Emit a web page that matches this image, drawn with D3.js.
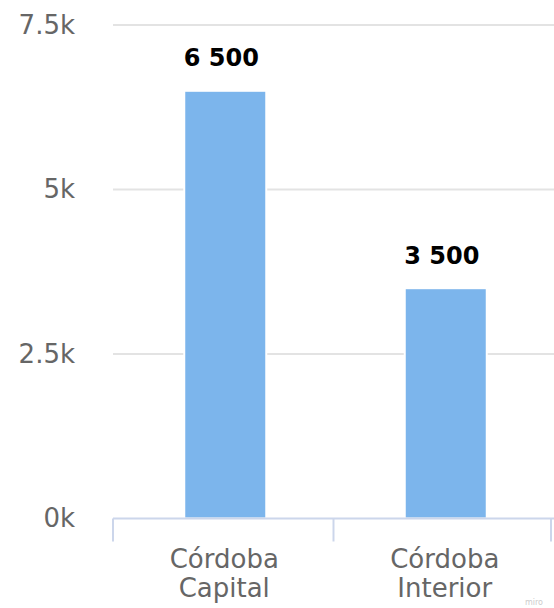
<!DOCTYPE html>
<html>
<head>
<meta charset="utf-8">
<script src="https://cdn.jsdelivr.net/npm/d3@7"></script>
<style>
  html, body { margin: 0; padding: 0; background: #fff; }
  svg { display: block; }
  text { font-family: "DejaVu Sans", sans-serif; }
</style>
</head>
<body>
<svg id="chart" width="554" height="608"></svg>
<script>
const categories = [["Córdoba", "Capital"], ["Córdoba", "Interior"]];
const values = [6500, 3500];
const valueLabels = ["6 500", "3 500"];
const yTicks = [0, 2500, 5000, 7500];
const yTickLabels = ["0k", "2.5k", "5k", "7.5k"];

const svg = d3.select("#chart");
const plotLeft = 113, plotRight = 554, plotTop = 25, plotBottom = 518.5;

const x = d3.scaleBand().domain(d3.range(categories.length)).range([plotLeft, plotRight]).paddingInner(0).paddingOuter(0);
const y = d3.scaleLinear().domain([0, 7500]).range([plotBottom, plotTop]);

// gridlines
svg.append("g").selectAll("line").data(yTicks.filter(d => d > 0)).join("line")
  .attr("x1", plotLeft).attr("x2", plotRight)
  .attr("y1", d => y(d)).attr("y2", d => y(d))
  .attr("stroke", "#e3e3e3").attr("stroke-width", 2);

// y labels
svg.append("g").selectAll("text").data(yTicks).join("text")
  .attr("x", 75).attr("y", d => y(d) + 8.5)
  .attr("text-anchor", "end")
  .attr("font-size", 26).attr("fill", "#666")
  .text((d, i) => yTickLabels[i]);

// bars
const barW = 82;
svg.append("g").selectAll("rect").data(values).join("rect")
  .attr("x", (d, i) => x(i) + x.bandwidth() / 2 - barW / 2 + 2)
  .attr("width", barW)
  .attr("y", d => y(d))
  .attr("height", d => y(0) - y(d))
  .attr("fill", "#7cb5ec")
  .attr("stroke", "#ffffff").attr("stroke-width", 2);

// x axis line
svg.append("line")
  .attr("x1", plotLeft).attr("x2", plotRight + 2)
  .attr("y1", plotBottom).attr("y2", plotBottom)
  .attr("stroke", "#ccd6eb").attr("stroke-width", 2);

// x ticks
const tickXs = d3.range(categories.length + 1).map(i => i < categories.length ? x(i) : plotRight - 3);
svg.append("g").selectAll("line").data(tickXs).join("line")
  .attr("x1", d => d).attr("x2", d => d)
  .attr("y1", plotBottom).attr("y2", plotBottom + 23)
  .attr("stroke", "#ccd6eb").attr("stroke-width", 2);

// category labels
const catG = svg.append("g").selectAll("text").data(categories).join("text")
  .attr("text-anchor", "middle")
  .attr("font-size", 26).attr("fill", "#666");
catG.each(function(d, i) {
  const t = d3.select(this);
  d.forEach((line, j) => {
    t.append("tspan")
      .attr("x", x(i) + x.bandwidth() / 2 + 1)
      .attr("y", 568 + j * 29)
      .text(line);
  });
});

// data labels
svg.append("g").selectAll("text").data(values).join("text")
  .attr("x", (d, i) => x(i) + x.bandwidth() / 2 - 2)
  .attr("y", d => y(d) - 24.5)
  .attr("text-anchor", "middle")
  .attr("font-size", 24).attr("font-weight", "bold").attr("fill", "#000")
  .text((d, i) => valueLabels[i]);

// watermark
svg.append("text")
  .attr("x", 534).attr("y", 605)
  .attr("text-anchor", "middle")
  .attr("font-size", 8).attr("fill", "#ccc")
  .text("miro");
</script>
</body>
</html>
